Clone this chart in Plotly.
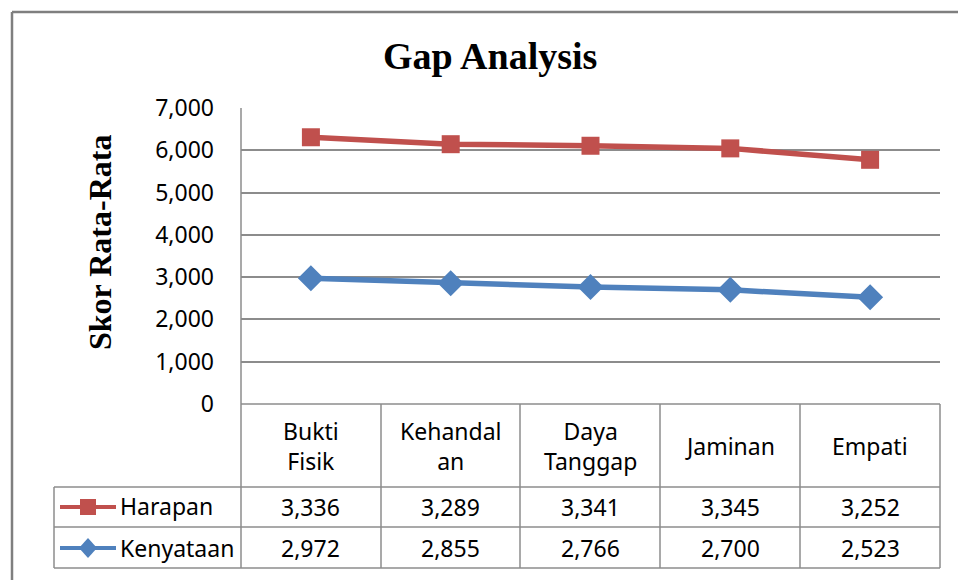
import plotly.graph_objects as go

categories = ["Bukti<br>Fisik", "Kehandal<br>an", "Daya<br>Tanggap", "Jaminan", "Empati"]
harapan = [3336, 3289, 3341, 3345, 3252]
kenyataan = [2972, 2855, 2766, 2700, 2523]
y_ticks = [0, 1000, 2000, 3000, 4000, 5000, 6000, 7000]

RED = "#C0504D"
BLUE = "#4F81BD"
GRID = "#8C8C8C"
FONT = "Noto Sans"
FS = 23

# Excel stacked line: Harapan plotted on top of Kenyataan
harapan_stacked = [h + k for h, k in zip(harapan, kenyataan)]
x = list(range(len(categories)))

W, H = 958, 580
L, R, T, B = 241, 940, 108, 404

def px(xp):
    return (xp - L) / (R - L)

def py(yp):
    return (B - yp) / (B - T)

fig = go.Figure()
fig.add_trace(go.Scatter(x=x, y=kenyataan, mode="lines+markers", name="Kenyataan",
                         line=dict(color=BLUE, width=5.5),
                         marker=dict(symbol="diamond", size=20, color=BLUE),
                         cliponaxis=False))
fig.add_trace(go.Scatter(x=x, y=harapan_stacked, mode="lines+markers", name="Harapan",
                         line=dict(color=RED, width=5.5),
                         marker=dict(symbol="square", size=18, color=RED),
                         cliponaxis=False))

shapes = []
def line(x0, y0, x1, y1, color=GRID, width=1.5):
    shapes.append(dict(type="line", xref="paper", yref="paper",
                       x0=px(x0), y0=py(y0), x1=px(x1), y1=py(y1),
                       line=dict(color=color, width=width)))

# outer chart border
line(12, 12, 958, 12, "#7F7F7F", 2.5)
line(12, 12, 12, 580, "#7F7F7F", 2.5)
# plot left border through table
line(L, T, L, 568)
# table horizontal lines
line(L, B, R, B)
line(54, 487, R, 487)
line(54, 527, R, 527)
line(54, 568, R, 568)
# legend column left edge
line(54, 487, 54, 568)
# column separators
for xc in [381, 520, 660, 800, 940]:
    line(xc, B, xc, 568)

# legend keys
line(60, 507, 116, 507, RED, 4)
shapes.append(dict(type="rect", xref="paper", yref="paper",
                   x0=px(80), x1=px(96), y0=py(499), y1=py(515),
                   fillcolor=RED, line=dict(width=0)))
line(60, 548, 116, 548, BLUE, 4)
shapes.append(dict(type="path", xref="paper", yref="paper",
                   path="M {a},{b} L {c},{d} L {a},{e} L {f},{d} Z".format(
                       a=px(88), b=py(538), c=px(97), d=py(548), e=py(558), f=px(79)),
                   fillcolor=BLUE, line=dict(width=0)))

annotations = []
def ann(text, xv, yv, xref="paper", size=FS, family=FONT, xanchor="center", angle=0):
    annotations.append(dict(text=text, xref=xref, yref="paper", x=xv, y=yv,
                            xanchor=xanchor, yanchor="middle", showarrow=False,
                            align="center", textangle=angle,
                            font=dict(family=family, size=size, color="black")))

ann("<b>Gap Analysis</b>", px(490), py(56), size=38, family="Liberation Serif")
ann("<b>Skor Rata-Rata</b>", px(100), py(243), size=32, family="Liberation Serif", angle=-90)

for i, c in enumerate(categories):
    ann(c, i, py(446), xref="x")
    ann(f"{harapan[i]:,}", i, py(507), xref="x")
    ann(f"{kenyataan[i]:,}", i, py(548), xref="x")

ann("Harapan", px(118), py(506), xanchor="left")
ann("Kenyataan", px(118), py(548), xanchor="left")

fig.update_layout(
    width=W, height=H,
    margin=dict(l=L, r=W - R, t=T, b=H - B),
    paper_bgcolor="white", plot_bgcolor="white",
    showlegend=False,
    shapes=shapes, annotations=annotations,
    xaxis=dict(range=[-0.5, len(categories) - 0.5], showticklabels=False,
               showgrid=False, zeroline=False, showline=False, fixedrange=True),
    yaxis=dict(range=[0, 7000], tickvals=y_ticks,
               ticktext=[f"{v:,}" for v in y_ticks],
               showgrid=True, gridcolor=GRID, gridwidth=1.5,
               zeroline=False, showline=False, ticks="", ticklabelstandoff=26,
               tickfont=dict(family=FONT, size=FS, color="black")),
)

fig.write_html("out.html", config={"displayModeBar": False},
               post_script="document.body.style.margin='0';")
